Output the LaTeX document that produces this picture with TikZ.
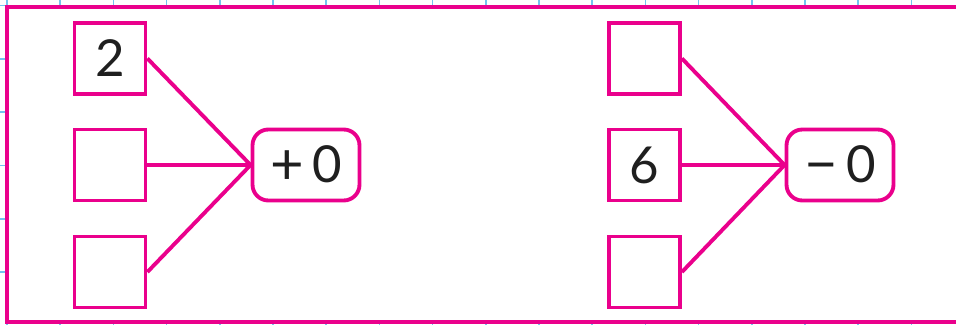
\documentclass[tikz,border=0pt]{standalone}
\usepackage{fontspec}
\setmainfont{Lato}
\usepackage{tikz}
\usetikzlibrary{positioning}
\definecolor{BondPink}{RGB}{234,0,140}
\definecolor{BondGrid}{RGB}{115,195,240}
\newcommand{\bondsign}[1]{\raisebox{-1.5pt}{\fontsize{33}{36}\selectfont #1}}
\tikzset{
  bond/box/.style={
    draw=BondPink,
    line width=2.2pt,
    fill=white,
    minimum width=1.42cm,
    minimum height=1.42cm,
    inner sep=0pt,
    text=black!88,
    font=\fontsize{29}{32}\selectfont
  },
  bond/op/.style={
    draw=BondPink,
    line width=2.2pt,
    rounded corners=9pt,
    fill=white,
    minimum width=2.14cm,
    minimum height=1.42cm,
    inner sep=0pt,
    text=black!88,
    font=\fontsize{29}{32}\selectfont
  },
  bond/line/.style={line width=2.2pt, draw=BondPink},
  bond/frame/.style={line width=2.2pt, draw=BondPink, fill=white},
  bond/grid/.style={line width=1pt, draw=BondGrid}
}
\begin{document}
\begin{tikzpicture}[x=0.02cm,y=0.02cm]
  \useasboundingbox (0,0) rectangle (956,325);
  % squared paper behind the frame
  \foreach \gx in {7,60.2,...,960} \draw[bond/grid] (\gx,0) -- (\gx,325);
  \foreach \gy in {53,106.3,...,325} \draw[bond/grid] (0,\gy) -- (956,\gy);
  \path[bond/frame] (7,3) rectangle (965,318);
  % left: number bond with +0
  \node[bond/box] (a1) at (110,266.5) {2};
  \node[bond/box] (a2) at (110,160) {};
  \node[bond/box] (a3) at (110,53) {};
  \node[bond/op] (aop) at (306,160) {\bondsign{+}\,0};
  \draw[bond/line] (a1.east) -- (aop.west);
  \draw[bond/line] (a2.east) -- (aop.west);
  \draw[bond/line] (a3.east) -- (aop.west);
  % right: number bond with -0
  \node[bond/box] (b1) at (644.5,266.5) {};
  \node[bond/box] (b2) at (644.5,160) {6};
  \node[bond/box] (b3) at (644.5,53) {};
  \node[bond/op] (bop) at (840,160) {\bondsign{−}\,0};
  \draw[bond/line] (b1.east) -- (bop.west);
  \draw[bond/line] (b2.east) -- (bop.west);
  \draw[bond/line] (b3.east) -- (bop.west);
\end{tikzpicture}
\end{document}
